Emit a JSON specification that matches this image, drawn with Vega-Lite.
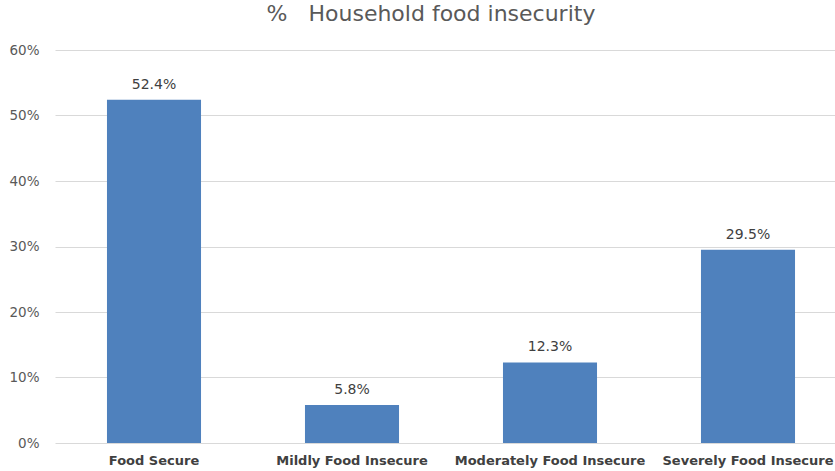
{
  "$schema": "https://vega.github.io/schema/vega-lite/v6.json",
  "width": 780,
  "height": 393,
  "autosize": "none",
  "padding": {"left": 55, "top": 50, "right": 0, "bottom": 28},
  "background": "white",
  "title": {
    "text": "%\u00a0\u00a0 Household food insecurity",
    "font": "DejaVu Sans",
    "fontSize": 22,
    "fontWeight": "normal",
    "color": "#595959",
    "anchor": "middle",
    "dx": -14,
    "offset": 17
  },
  "data": {
    "values": [
      {"category": "Food Secure", "pct": 0.524},
      {"category": "Mildly Food Insecure", "pct": 0.058},
      {"category": "Moderately Food Insecure", "pct": 0.123},
      {"category": "Severely Food Insecure", "pct": 0.295}
    ]
  },
  "encoding": {
    "x": {
      "field": "category",
      "type": "nominal",
      "sort": null,
      "scale": {"range": [0, 792], "paddingInner": 0.525, "paddingOuter": 0.2625},
      "axis": {
        "title": null,
        "labelAngle": 0,
        "labelFont": "DejaVu Sans",
        "labelFontSize": 13,
        "labelFontWeight": "bold",
        "labelColor": "#404040",
        "labelPadding": 11,
        "labelLimit": 0,
        "labelOverlap": false,
        "ticks": false,
        "domain": false,
        "grid": false
      }
    },
    "y": {
      "field": "pct",
      "type": "quantitative",
      "scale": {"domain": [0, 0.6], "nice": false},
      "axis": {
        "title": null,
        "format": ".0%",
        "values": [0, 0.1, 0.2, 0.3, 0.4, 0.5, 0.6],
        "labelFont": "DejaVu Sans",
        "labelFontSize": 13.5,
        "labelColor": "#595959",
        "labelPadding": 16,
        "ticks": false,
        "domain": false,
        "grid": true,
        "gridColor": "#d9d9d9",
        "gridWidth": 1
      }
    }
  },
  "layer": [
    {"mark": {"type": "bar", "color": "#4F81BD"}},
    {
      "mark": {"type": "text", "dy": -15, "font": "DejaVu Sans", "fontSize": 14, "color": "#404040"},
      "encoding": {"text": {"field": "pct", "type": "quantitative", "format": ".1%"}}
    }
  ],
  "config": {"view": {"stroke": null}}
}
